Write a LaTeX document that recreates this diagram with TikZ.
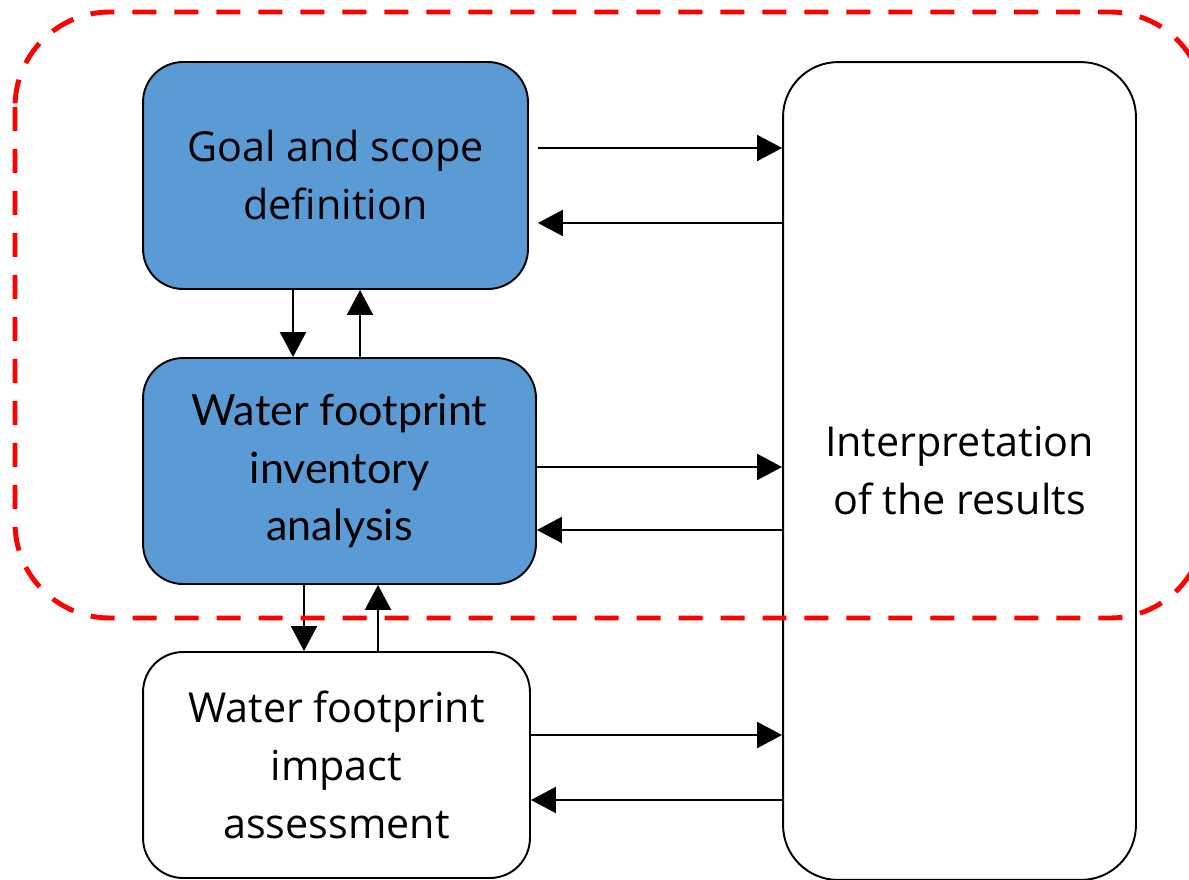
\documentclass[tikz,border=0pt]{standalone}
\usepackage{fontspec}
\setmainfont{Lato}
\newfontfamily\lightfont{Open Sans}
\usetikzlibrary{arrows.meta}
\definecolor{phaseblue}{HTML}{5B9BD5}
\begin{document}
\begin{tikzpicture}[x=0.02cm,y=-0.02cm,
    phase/.style={draw,line width=1.1pt,rounded corners=0.8cm,align=center,
      inner sep=0pt,minimum width=7.74cm,minimum height=4.52cm,
      font=\lightfont\fontsize{23.5}{33}\selectfont},
    flow/.style={line width=1.2pt,-{Triangle[length=0.5cm,width=0.52cm]}}]
    \useasboundingbox (0,0) rectangle (1189,879);
    \node[phase,fill=phaseblue,minimum width=7.7cm,minimum height=4.54cm] (goal) at (335.5,175.5) {Goal and scope\\definition};
    \node[phase,fill=phaseblue,minimum width=7.86cm,font=\fontsize{24.5}{33}\selectfont] (inv) at (339.5,471) {Water footprint\\inventory\\analysis};
    \node[phase] (imp) at (336.5,765) {Water footprint\\impact\\assessment};
    \node[phase,rounded corners=1.1cm,minimum width=7.06cm,minimum height=16.36cm] (interp) at (959.5,471) {Interpretation\\ of the results};
    \draw[flow] ([xshift=0.18cm,yshift=0.55cm]goal.east) -- ([yshift=0.55cm]goal.east -| interp.west);
    \draw[flow] ([yshift=-0.95cm]goal.east -| interp.west) -- ([xshift=0.18cm,yshift=-0.95cm]goal.east);
    \draw[flow] ([xshift=-0.85cm]goal.south) -- ([xshift=-0.85cm]goal.south |- inv.north);
    \draw[flow] ([xshift=0.49cm]goal.south |- inv.north) -- ([xshift=0.49cm]goal.south);
    \draw[flow] ([yshift=0.08cm]inv.east) -- ([yshift=0.08cm]inv.east -| interp.west);
    \draw[flow] ([yshift=-1.18cm]inv.east -| interp.west) -- ([yshift=-1.18cm]inv.east);
    \draw[flow] ([xshift=-0.71cm]inv.south) -- ([xshift=-0.71cm]inv.south |- imp.north);
    \draw[flow] ([xshift=0.77cm]inv.south |- imp.north) -- ([xshift=0.77cm]inv.south);
    \draw[flow] ([yshift=0.6cm]imp.east) -- ([yshift=0.6cm]imp.east -| interp.west);
    \draw[flow] ([yshift=-0.7cm]imp.east -| interp.west) -- ([yshift=-0.7cm]imp.east);
    \draw[red,line width=2.8pt,dash pattern=on 0.48cm off 0.36cm,rounded corners=1.9cm]
      (15,12) rectangle (1205,618);
\end{tikzpicture}
\end{document}
